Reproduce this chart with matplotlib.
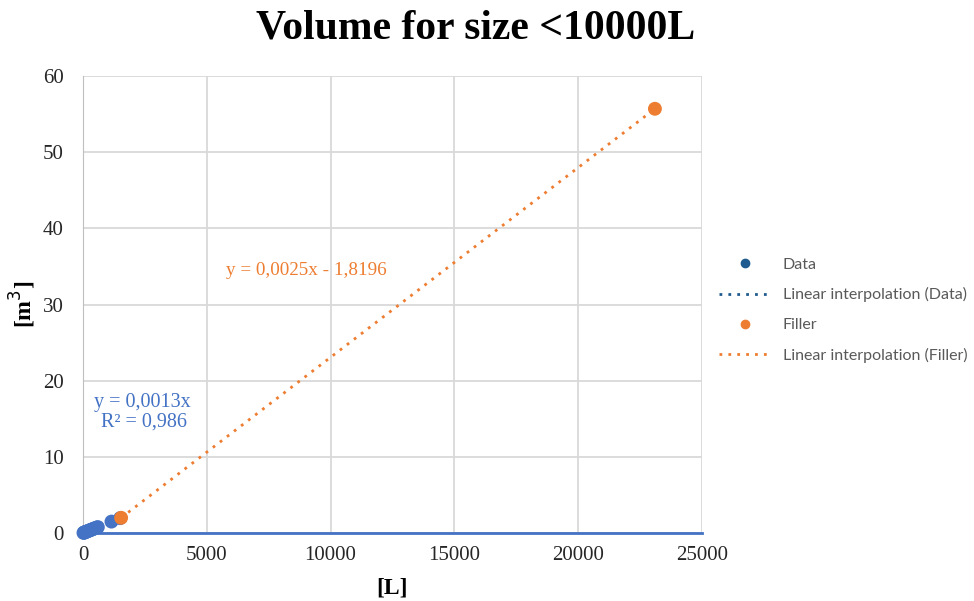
import numpy as np
import matplotlib.pyplot as plt
from matplotlib.lines import Line2D

# Data (litres vs cubic metres)
data_x = [20, 40, 60, 80, 100, 130, 160, 200, 240, 280, 320, 360, 400, 450, 500, 550, 600, 1150, 1500]
data_y = [0.02, 0.05, 0.08, 0.10, 0.13, 0.17, 0.21, 0.26, 0.31, 0.36, 0.42, 0.47, 0.52, 0.58, 0.65, 0.71, 0.78, 1.5, 1.95]
filler_x = [1540, 23100]
filler_y = [2.0, 55.7]

data_label = 'Data'
filler_label = 'Filler'
data_fit_label = 'Linear interpolation (Data)'
filler_fit_label = 'Linear interpolation (Filler)'

blue = '#4472C4'
dark_blue = '#1F5B8E'
orange = '#ED7D31'

plt.rcParams['font.family'] = ['Liberation Serif', 'DejaVu Serif']

fig = plt.figure(figsize=(9.74, 6.01), dpi=100)
ax = fig.add_axes([0.0852, 0.1131, 0.6355, 0.7604])

# trend line through filler points
coef = np.polyfit(filler_x, filler_y, 1)
fx = np.array(filler_x)
ax.plot(fx, np.polyval(coef, fx), linestyle=(0, (1, 2.2)), color=orange, lw=2, zorder=3)

# blue axis-like line along y = 0
ax.plot([0, 25000], [0, 0], color=blue, lw=2, zorder=2, clip_on=False)

ax.scatter(data_x, data_y, s=100, color=blue, zorder=4, edgecolors='none', clip_on=False)
ax.scatter(filler_x, filler_y, s=100, color=orange, zorder=5, edgecolors='none', clip_on=False)

ax.set_xlim(0, 25000)
ax.set_ylim(0, 60)
ax.set_xticks(np.arange(0, 25001, 5000))
ax.set_yticks(np.arange(0, 61, 10))
ax.grid(True, color='#D9D9D9', lw=1.3)
ax.set_axisbelow(True)
for s in ['top', 'right', 'bottom']:
    ax.spines[s].set_visible(False)
ax.spines['left'].set_color('#BFBFBF')
ax.tick_params(axis='x', length=0, labelsize=15, colors='#262626', pad=9)
ax.tick_params(axis='y', length=0, labelsize=15, colors='#262626', pad=14)

ax.set_xlabel('[L]', fontsize=17, fontweight='bold', labelpad=9)
ax.set_ylabel('[m$^3$]', fontsize=17, fontweight='bold', labelpad=3)

fig.text(0.488, 0.952, 'Volume for size <10000L', ha='center', va='center',
         fontsize=30, fontweight='bold')

ax.text(5775, 34.5, 'y = 0,0025x - 1,8196', color=orange, fontsize=13.8, va='center')
ax.text(2383, 15.8, 'y = 0,0013x\n R² = 0,986', color=blue, fontsize=14.5,
        ha='center', va='center', linespacing=1.05)

# legend
handles = [
    Line2D([], [], marker='o', linestyle='none', color=dark_blue, markersize=6),
    Line2D([], [], linestyle=(0, (1, 2.2)), color=dark_blue, lw=2),
    Line2D([], [], marker='o', linestyle='none', color=orange, markersize=6),
    Line2D([], [], linestyle=(0, (1, 2.2)), color=orange, lw=2),
]
labels = [data_label, data_fit_label, filler_label, filler_fit_label]
leg = fig.legend(handles, labels, loc='center left', bbox_to_anchor=(0.7235, 0.484),
                 frameon=False, handlelength=3.3, handletextpad=0.7, labelspacing=0.98,
                 prop={'family': 'Lato', 'size': 11.5})
for t in leg.get_texts():
    t.set_color('#595959')

fig.savefig('out.png', dpi=100)
